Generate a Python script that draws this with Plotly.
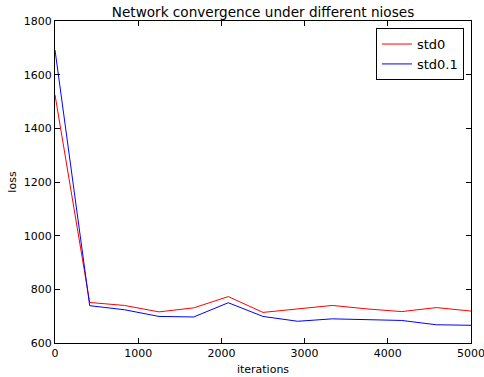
import plotly.graph_objects as go

iterations = [0, 417, 833, 1250, 1667, 2083, 2500, 2917, 3333, 3750, 4167, 4583, 5000]
loss_std0 = [1525, 751, 740, 716, 731, 773, 714, 727, 740, 727, 717, 732, 719]
loss_std01 = [1692, 739, 724, 699, 697, 750, 699, 681, 690, 686, 684, 668, 666]

font = "DejaVu Sans"
fig = go.Figure()
fig.add_trace(go.Scatter(x=iterations, y=loss_std0, mode="lines", name="std0",
                         line=dict(color="#ff0000", width=1)))
fig.add_trace(go.Scatter(x=iterations, y=loss_std01, mode="lines", name="std0.1",
                         line=dict(color="#0000ff", width=1)))

axis_common = dict(showline=True, linecolor="black", linewidth=1, mirror="ticks",
                   ticks="inside", ticklen=5, tickcolor="black", showgrid=False,
                   zeroline=False, ticklabeloverflow="allow", automargin=False,
                   tickfont=dict(family=font, size=11, color="black"))
fig.update_layout(
    width=484, height=377,
    margin=dict(l=55, r=13, t=21, b=34),
    paper_bgcolor="white", plot_bgcolor="white",
    title=dict(text="Network convergence under different nioses", xref="paper", x=0.5,
               xanchor="center", yref="container", y=1 - 12 / 377, yanchor="middle",
               font=dict(family=font, size=13.6, color="black")),
    xaxis=dict(range=[0, 5000], tickvals=[0, 1000, 2000, 3000, 4000, 5000],
               title=dict(text="iterations", standoff=6, font=dict(family=font, size=11, color="black")),
               **axis_common),
    yaxis=dict(range=[600, 1800], tickvals=[600, 800, 1000, 1200, 1400, 1600, 1800],
               title=dict(text="loss", standoff=4, font=dict(family=font, size=11, color="black")),
               **axis_common),
    legend=dict(x=0.983, y=0.978, xanchor="right", yanchor="top",
                bordercolor="black", borderwidth=1, bgcolor="white",
                font=dict(family=font, size=13, color="black")),
)
fig.write_html("out.html")
